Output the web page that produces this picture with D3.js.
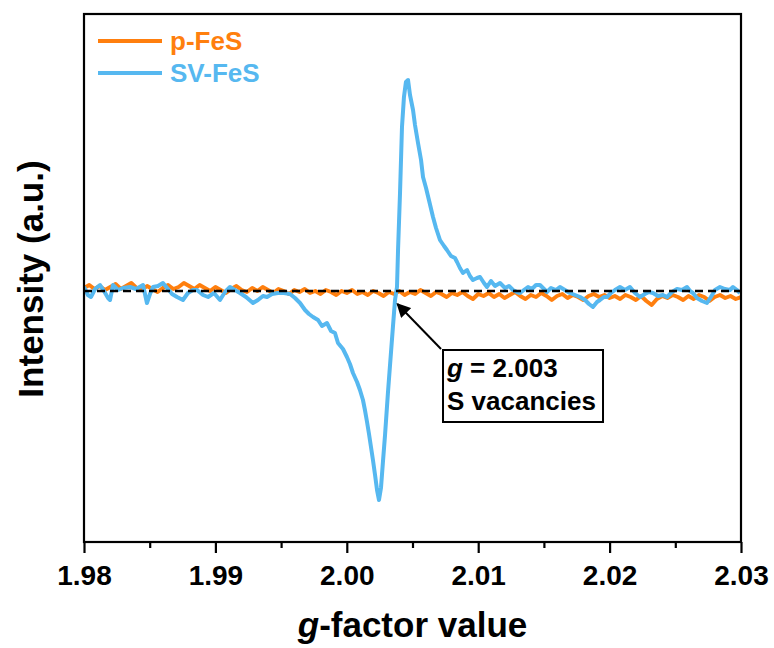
<!DOCTYPE html>
<html>
<head>
<meta charset="utf-8">
<script src="https://cdn.jsdelivr.net/npm/d3@7"></script>
<style>
  html, body { margin: 0; padding: 0; background: #fff; }
  svg { display: block; font-family: "Liberation Sans", Arial, sans-serif; font-weight: bold; }
</style>
</head>
<body>
<svg id="chart" width="774" height="648"></svg>
<script>
// ---------- data ----------
const seriesNames = ["p-FeS", "SV-FeS"];
const seriesColors = ["#FF7F0E", "#56B8F0"];
const xTicks = [1.98, 1.99, 2.00, 2.01, 2.02, 2.03];
const xMinorTicks = [1.985, 1.995, 2.005, 2.015, 2.025];
const gMarker = 2.003;

// p-FeS: [g-factor, intensity (a.u.)]
const pFeS = [
[1.9800,0.3],[1.9804,0.6],[1.9808,0.2],[1.9812,0.5],[1.9816,0.1],[1.9820,0.4],[1.9824,0.7],[1.9828,0.2],
[1.9832,0.5],[1.9836,0.8],[1.9840,0.3],[1.9844,0.1],[1.9848,0.5],[1.9852,0.2],[1.9856,-0.1],[1.9860,0.3],
[1.9864,0.6],[1.9868,0.2],[1.9872,0.4],[1.9876,0.8],[1.9880,0.5],[1.9884,0.2],[1.9888,0.6],[1.9892,0.3],
[1.9896,0.0],[1.9900,0.4],[1.9904,0.1],[1.9908,-0.2],[1.9912,0.2],[1.9916,0.5],[1.9920,0.1],[1.9924,-0.1],
[1.9928,0.3],[1.9932,0.0],[1.9936,0.4],[1.9940,0.1],[1.9944,-0.2],[1.9948,0.2],[1.9952,0.0],[1.9956,-0.3],
[1.9960,0.1],[1.9964,-0.1],[1.9968,0.2],[1.9972,-0.2],[1.9976,0.0],[1.9980,-0.3],[1.9984,0.1],[1.9988,-0.1],
[1.9992,-0.4],[1.9996,0.0],[2.0000,-0.2],[2.0004,0.1],[2.0008,-0.3],[2.0012,-0.1],[2.0016,-0.4],[2.0020,0.0],
[2.0024,-0.2],[2.0028,-0.5],[2.0032,-0.1],[2.0036,-0.3],[2.0040,0.0],[2.0044,-0.4],[2.0048,-0.1],[2.0052,-0.3],
[2.0056,0.1],[2.0060,-0.2],[2.0064,-0.5],[2.0068,-0.1],[2.0072,-0.3],[2.0076,-0.6],[2.0080,-0.2],[2.0084,-0.4],
[2.0088,-0.1],[2.0092,-0.5],[2.0096,-0.8],[2.0100,-0.3],[2.0104,-0.5],[2.0108,-0.2],[2.0112,-0.6],[2.0116,-0.3],
[2.0120,-0.7],[2.0124,-0.4],[2.0128,-0.1],[2.0132,-0.5],[2.0136,-0.8],[2.0140,-0.4],[2.0144,-0.6],[2.0148,-0.2],
[2.0152,-0.5],[2.0156,-0.9],[2.0160,-0.5],[2.0164,-0.3],[2.0168,-0.7],[2.0172,-0.4],[2.0176,-0.6],[2.0180,-0.9],
[2.0184,-0.5],[2.0188,-0.3],[2.0192,-0.6],[2.0196,-0.4],[2.0200,-0.7],[2.0204,-0.5],[2.0208,-0.8],[2.0212,-0.4],
[2.0216,-0.6],[2.0220,-0.9],[2.0224,-0.5],[2.0228,-1.0],[2.0232,-1.4],[2.0236,-0.8],[2.0240,-0.5],[2.0244,-0.7],
[2.0248,-0.4],[2.0252,-0.6],[2.0256,-0.9],[2.0260,-0.5],[2.0264,-0.8],[2.0268,-0.4],[2.0272,-0.6],[2.0276,-1.0],
[2.0280,-0.6],[2.0284,-0.4],[2.0288,-0.7],[2.0292,-0.5],[2.0296,-0.8],[2.0300,-0.6]
];

// SV-FeS: [g-factor, intensity (a.u.)]
const svFeS = [
[1.98000,0.4],[1.98030,-0.4],[1.98053,-0.6],[1.98084,0.2],[1.98122,0.6],[1.98152,0],[1.98183,-0.7],[1.98198,-0.9],
[1.98221,0.6],[1.98259,0.1],[1.98297,0.3],[1.98350,0.4],[1.98396,0.2],[1.98449,0.6],[1.98479,-1.2],[1.98502,-0.3],
[1.98525,0.4],[1.98563,0.5],[1.98601,0.8],[1.98639,0.2],[1.98670,-0.3],[1.98708,-0.6],[1.98753,-0.9],[1.98791,-0.2],
[1.98829,0.1],[1.98860,0.1],[1.98906,-0.4],[1.98944,-0.6],[1.98989,-0.2],[1.99035,-0.9],[1.99073,-0.1],[1.99111,0.4],
[1.99149,0.1],[1.99187,-0.2],[1.99233,-0.6],[1.99286,-1.2],[1.99324,-0.9],[1.99362,-0.5],[1.99393,-0.6],[1.99431,-0.3],
[1.99476,-0.2],[1.99522,-0.2],[1.99568,-0.3],[1.99606,-0.7],[1.99644,-1.2],[1.99682,-1.9],[1.99712,-2.3],[1.99743,-2.6],
[1.99781,-2.9],[1.99811,-3.5],[1.99849,-3.2],[1.99880,-4.0],[1.99910,-4.2],[1.99933,-5.2],[1.99971,-5.8],[2.00001,-6.6],
[2.00024,-7.3],[2.00047,-8.2],[2.00078,-9.1],[2.00100,-9.9],[2.00123,-10.9],[2.00138,-11.9],[2.00154,-13.1],[2.00169,-14.3],
[2.00184,-15.6],[2.00199,-16.9],[2.00215,-18.4],[2.00230,-19.9],[2.00245,-20.9],[2.00260,-19.7],[2.00275,-17.1],[2.00291,-14.4],
[2.00313,-10.2],[2.00329,-7.4],[2.00351,-3.6],[2.00367,-0.9],[2.00382,0.4],[2.00390,4.1],[2.00405,9.8],[2.00420,16.4],
[2.00435,19.4],[2.00450,20.9],[2.00466,21.1],[2.00481,19.6],[2.00504,18.1],[2.00519,16.6],[2.00542,14.8],[2.00565,13.1],
[2.00580,11.4],[2.00603,10.3],[2.00625,9.1],[2.00656,7.4],[2.00679,6.3],[2.00709,5.1],[2.00740,4.5],[2.00762,4.1],
[2.00793,3.5],[2.00823,3.3],[2.00839,2.9],[2.00861,2.3],[2.00884,1.8],[2.00915,2.1],[2.00937,1.5],[2.00960,1.1],
[2.00991,1.3],[2.01014,1.4],[2.01044,0.8],[2.01067,0.4],[2.01097,1.0],[2.01128,0.5],[2.01166,0.8],[2.01204,0.3],
[2.01234,0.5],[2.01265,0.1],[2.01295,-0.1],[2.01318,-0.2],[2.01348,0.1],[2.01379,0.4],[2.01409,0.2],[2.01440,0.6],
[2.01470,0.6],[2.01501,0.2],[2.01523,-0.1],[2.01554,0.3],[2.01592,0.1],[2.01622,0.4],[2.01660,0.1],[2.01698,-0.2],
[2.01737,-0.4],[2.01775,-0.6],[2.01813,-0.9],[2.01843,-1.3],[2.01873,-1.6],[2.01904,-1.1],[2.01927,-0.9],[2.01957,-0.6],
[2.01980,-0.6],[2.02010,-0.2],[2.02041,0.1],[2.02079,0.4],[2.02117,0.1],[2.02155,0.4],[2.02193,-0.2],[2.02231,-0.6],
[2.02269,-0.3],[2.02300,-0.1],[2.02330,-0.2],[2.02368,-0.5],[2.02406,-0.4],[2.02437,-0.6],[2.02475,-0.1],[2.02513,0.2],
[2.02551,0.1],[2.02589,0.4],[2.02612,0],[2.02634,-0.2],[2.02665,-0.7],[2.02703,-1.0],[2.02741,-1.2],[2.02771,-0.6],
[2.02802,0.1],[2.02840,0.4],[2.02878,0.2],[2.02916,0.1],[2.02939,0.4],[2.02969,0.1],[2.02992,-0.2]
];

// annotation arrow: tail and tip in data units
const arrowTail = [2.00717, -5.8];
const arrowTip = [2.00385, -1.3];

// ---------- layout ----------
const padL = 84, padR = 741, padT = 14, padB = 542;
const svg = d3.select("#chart");
svg.append("rect").attr("width", 774).attr("height", 648).attr("fill", "#fff");

const x = d3.scaleLinear().domain([1.98, 2.03]).range([padL, padR]);
const y = d3.scaleLinear().domain([-25.1, 27.7]).range([padB, padT]);

const defs = svg.append("defs");
defs.append("clipPath").attr("id", "clip").append("rect")
  .attr("x", padL).attr("y", padT).attr("width", padR - padL).attr("height", padB - padT);
defs.append("marker").attr("id", "arrowhead")
  .attr("viewBox", "0 0 10 10").attr("refX", 9).attr("refY", 5)
  .attr("markerWidth", 7).attr("markerHeight", 7).attr("markerUnits", "strokeWidth")
  .attr("orient", "auto")
  .append("path").attr("d", "M0,0 L10,5 L0,10 Z").attr("fill", "#000");

const line = d3.line().x(d => x(d[0])).y(d => y(d[1]));

const plot = svg.append("g").attr("clip-path", "url(#clip)");
plot.append("path").datum(pFeS).attr("d", line)
  .attr("fill", "none").attr("stroke", seriesColors[0]).attr("stroke-width", 4)
  .attr("stroke-linejoin", "round");
plot.append("path").datum(svFeS).attr("d", line)
  .attr("fill", "none").attr("stroke", seriesColors[1]).attr("stroke-width", 4)
  .attr("stroke-linejoin", "round");

// dashed baseline
plot.append("line")
  .attr("x1", x(1.98)).attr("x2", x(2.03)).attr("y1", y(0)).attr("y2", y(0))
  .attr("stroke", "#000").attr("stroke-width", 2.5).attr("stroke-dasharray", "8,5");

// frame
svg.append("rect").attr("x", padL).attr("y", padT)
  .attr("width", padR - padL).attr("height", padB - padT)
  .attr("fill", "none").attr("stroke", "#000").attr("stroke-width", 2.2);

// x axis major
const ax = svg.append("g").attr("transform", `translate(0,${padB})`)
  .call(d3.axisBottom(x).tickValues(xTicks).tickFormat(d3.format(".2f"))
    .tickSize(11).tickPadding(12));
ax.select(".domain").remove();
ax.selectAll(".tick line").attr("stroke", "#000").attr("stroke-width", 2.2);
ax.selectAll(".tick text").attr("font-size", 28).attr("font-weight", "bold")
  .attr("font-family", '"Liberation Sans", Arial, sans-serif').attr("fill", "#000");

const axm = svg.append("g").attr("transform", `translate(0,${padB})`)
  .call(d3.axisBottom(x).tickValues(xMinorTicks).tickFormat("").tickSize(6));
axm.select(".domain").remove();
axm.selectAll(".tick line").attr("stroke", "#000").attr("stroke-width", 2.2);

// axis titles
const xt = svg.append("text").attr("x", (padL + padR) / 2).attr("y", 637)
  .attr("text-anchor", "middle").attr("font-size", 35).attr("fill", "#000");
xt.append("tspan").attr("font-style", "italic").text("g");
xt.append("tspan").text("-factor value");

svg.append("text").attr("transform", "translate(43,279) rotate(-90)")
  .attr("text-anchor", "middle").attr("font-size", 35).attr("fill", "#000")
  .text("Intensity (a.u.)");

// legend
const legY = [41, 73];
seriesNames.forEach((name, i) => {
  svg.append("line").attr("x1", 98).attr("x2", 162).attr("y1", legY[i]).attr("y2", legY[i])
    .attr("stroke", seriesColors[i]).attr("stroke-width", 4);
  svg.append("text").attr("x", 170).attr("y", legY[i] + 9)
    .attr("font-size", 26).attr("fill", seriesColors[i]).text(name);
});

// annotation
svg.append("line")
  .attr("x1", x(arrowTail[0])).attr("y1", y(arrowTail[1]))
  .attr("x2", x(arrowTip[0])).attr("y2", y(arrowTip[1]))
  .attr("stroke", "#000").attr("stroke-width", 2).attr("marker-end", "url(#arrowhead)");

const bx = x(arrowTail[0]) + 2, by = y(arrowTail[1]) + 1;
svg.append("rect").attr("x", bx).attr("y", by).attr("width", 160).attr("height", 72)
  .attr("fill", "#fff").attr("stroke", "#000").attr("stroke-width", 2);
const t1 = svg.append("text").attr("x", bx + 4).attr("y", by + 27).attr("font-size", 26).attr("fill", "#000");
t1.append("tspan").attr("font-style", "italic").text("g");
t1.append("tspan").text(" = " + gMarker.toFixed(3));
svg.append("text").attr("x", bx + 4).attr("y", by + 60).attr("font-size", 26).attr("fill", "#000")
  .text("S vacancies");
</script>
</body>
</html>
